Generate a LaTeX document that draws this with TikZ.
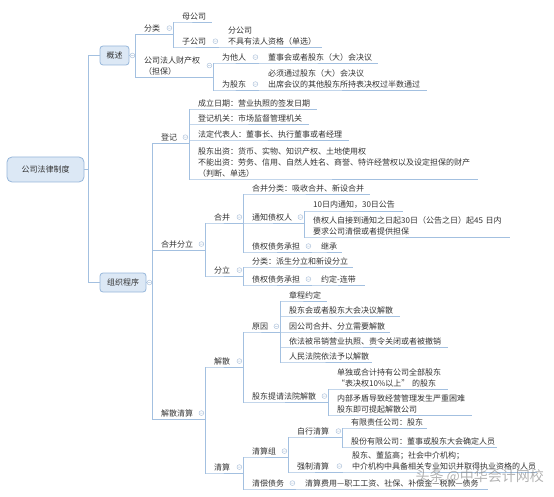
\documentclass[tikz,border=0pt]{standalone}
\usepackage{fontspec}
\setmainfont{Noto Sans CJK SC}
\definecolor{lineblue}{RGB}{163,192,224}
\definecolor{boxfill}{RGB}{220,232,245}
\definecolor{boxline}{RGB}{150,182,218}
\definecolor{txt}{RGB}{51,51,51}
\definecolor{foldc}{RGB}{176,196,220}
\begin{document}
\begin{tikzpicture}[x=1pt, y=-1pt, font=\fontsize{8}{11}\selectfont,
  itm/.style={anchor=south west, inner xsep=9pt, inner ysep=2pt, align=left, text=txt},
  topic/.style={draw=boxline, fill=boxfill, rounded corners=3pt, line width=0.8pt, text=txt, inner sep=0pt, minimum height=19pt},
  line/.style={draw=lineblue, line width=0.8pt},
  fold/.style={draw=foldc, fill=white, line width=0.5pt}]
\useasboundingbox (0,0) rectangle (554,497);

\node[topic, minimum width=77pt, minimum height=25pt, rounded corners=5pt] (root) at (45.5,169.5) {公司法律制度};
\node[topic, minimum width=29pt] (gaishu) at (114.5,55.5) {概述};
\node[topic, minimum width=46pt] (zuzhi) at (123,282.5) {组织程序};

\node[itm, text width=20pt] (fenlei) at (135,34) {分类};
\node[itm, text width=21pt] (mugongsi) at (173,22) {母公司};
\node[itm, text width=28pt] (zigongsi) at (173,47) {子公司};
\node[itm, text width=85pt] (fengongsi) at (219,47) {分公司\\不具有法人资格（单选）};
\node[itm, text width=60pt] (caichan) at (135,77) {公司法人财产权\\（担保）};
\node[itm, text width=28pt] (weitaren) at (213,63) {为他人};
\node[itm, text width=101pt] (dongshihui) at (259,63) {董事会或者股东（大）会决议};
\node[itm, text width=28pt] (weigudong) at (213,90) {为股东};
\node[itm, text width=150pt] (guobanshu) at (259,90) {必须通过股东（大）会决议\\出席会议的其他股东所持表决权过半数通过};

\node[itm, text width=19pt] (dengji) at (152,143) {登记};
\node[itm, text width=110pt] (chengli) at (189,109) {成立日期：营业执照的签发日期};
\node[itm, text width=102pt] (jiguan) at (189,124) {登记机关：市场监督管理机关};
\node[itm, text width=142pt] (daibiao) at (189,140) {法定代表人：董事长、执行董事或者经理};
\node[itm, text width=271pt] (chuzi) at (189,179) {股东出资：货币、实物、知识产权、土地使用权\\不能出资：劳务、信用、自然人姓名、商誉、特许经营权以及设定担保的财产\\（判断、单选）};

\node[itm, text width=35pt] (hebingfenli) at (152,250) {合并分立};
\node[itm, text width=20pt] (hebing) at (205,223) {合并};
\node[itm, text width=109pt] (hbfenlei) at (243,194) {合并分类：吸收合并、新设合并};
\node[itm, text width=43pt] (tongzhi) at (243,223) {通知债权人};
\node[itm, text width=81pt] (shitian) at (304,211) {10日内通知，30日公告};
\node[itm, text width=188pt] (qingchang) at (304,237) {债权人自接到通知之日起30日（公告之日）起45~日内\\要求公司清偿或者提供担保};
\node[itm, text width=51pt] (chengdan1) at (243,252) {债权债务承担};
\node[itm, text width=12pt] (jicheng) at (312,252) {继承};
\node[itm, text width=20pt] (fenli) at (205,276) {分立};
\node[itm, text width=92pt] (flfenlei) at (243,267) {分类：派生分立和新设分立};
\node[itm, text width=51pt] (chengdan2) at (243,285) {债权债务承担};
\node[itm, text width=35pt] (yueding) at (312,285) {\mbox{约定-连带}};

\node[itm, text width=35pt] (jiesanqs) at (152,419) {解散清算};
\node[itm, text width=20pt] (jiesan) at (205,367) {解散};
\node[itm, text width=19pt] (yuanyin) at (243,332) {原因};
\node[itm, text width=29pt] (zhangcheng) at (280,301) {章程约定};
\node[itm, text width=102pt] (jueyi) at (280,316) {股东会或者股东大会决议解散};
\node[itm, text width=92pt] (hebingxy) at (280,332) {因公司合并、分立需要解散};
\node[itm, text width=150pt] (diaoxiao) at (280,347) {依法被吊销营业执照、责令关闭或者被撤销};
\node[itm, text width=74pt] (fayuan) at (280,362) {人民法院依法予以解散};
\node[itm, text width=67pt] (tiqing) at (243,402) {股东提请法院解散};
\node[itm, text width=102pt] (chigu) at (328,389) {单独或合计持有公司全部股东\\“表决权10\%以上”~的股东};
\node[itm, text width=126pt] (maodun) at (328,415) {内部矛盾导致经营管理发生严重困难\\股东即可提起解散公司};
\node[itm, text width=20pt] (qingsuan) at (205,473) {清算};
\node[itm, text width=27pt] (qingsuanzu) at (243,457) {清算组};
\node[itm, text width=36pt] (zixing) at (288,437) {自行清算};
\node[itm, text width=67pt] (youxian) at (342,428) {有限责任公司：股东};
\node[itm, text width=137pt] (gufen) at (342,447) {股份有限公司：董事或股东大会确定人员};
\node[itm, text width=37pt] (qiangzhi) at (288,472) {强制清算};
\node[itm, text width=176pt] (zhongjie) at (343,472) {股东、董监高；社会中介机构；\\中介机构中具备相关专业知识并取得执业资格的人员};
\node[itm, text width=35pt] (qingchangzw) at (243,489) {清偿债务};
\node[itm, text width=174pt] (shunxu) at (296,489) {清算费用—职工工资、社保、补偿金—税款—债务};

\draw[line] (root.east) -- ++(4,0) |- (gaishu.west);
\draw[line] (root.east) -- ++(4,0) |- (zuzhi.west);
\foreach \c in {fenlei,caichan}
  \draw[line] (gaishu.east) -| (\c.south west) -- (\c.south east);
\foreach \c in {dengji,hebingfenli,jiesanqs}
  \draw[line] (zuzhi.east) -| (\c.south west) -- (\c.south east);
\foreach \p/\c in {fenlei/mugongsi, fenlei/zigongsi, zigongsi/fengongsi, caichan/weitaren,
    weitaren/dongshihui, caichan/weigudong, weigudong/guobanshu, dengji/chengli, dengji/jiguan,
    dengji/daibiao, dengji/chuzi, hebingfenli/hebing, hebingfenli/fenli, hebing/hbfenlei,
    hebing/tongzhi, hebing/chengdan1, tongzhi/shitian, tongzhi/qingchang, chengdan1/jicheng,
    fenli/flfenlei, fenli/chengdan2, chengdan2/yueding, jiesanqs/jiesan, jiesanqs/qingsuan,
    jiesan/yuanyin, jiesan/tiqing, yuanyin/zhangcheng, yuanyin/jueyi, yuanyin/hebingxy,
    yuanyin/diaoxiao, yuanyin/fayuan, tiqing/chigu, tiqing/maodun, qingsuan/qingsuanzu,
    qingsuan/qingchangzw, qingsuanzu/zixing, qingsuanzu/qiangzhi, zixing/youxian, zixing/gufen,
    qiangzhi/zhongjie, qingchangzw/shunxu}
  \draw[line] (\p.south east) |- (\c.south west) -- (\c.south east);

\draw[fold] ([xshift=3pt]gaishu.east) circle (2.4pt) ++(-1.3pt,0) -- ++(2.6pt,0);
\draw[fold] ([xshift=3pt]zuzhi.east) circle (2.4pt) ++(-1.3pt,0) -- ++(2.6pt,0);
\foreach \n in {fenlei,zigongsi,caichan,weitaren,weigudong,dengji,hebingfenli,hebing,tongzhi,
    chengdan1,fenli,chengdan2,jiesanqs,jiesan,yuanyin,tiqing,qingsuan,qingsuanzu,zixing,
    qiangzhi,qingchangzw}
  \draw[fold] ([xshift=-4pt]\n.east) circle (2.4pt) ++(-1.3pt,0) -- ++(2.6pt,0);

\node[anchor=west, text=gray, opacity=0.6, font=\fontsize{14}{16}\selectfont] (shuiyin) at (412,477) {头条 @中华会计网校};
\end{tikzpicture}
\end{document}
